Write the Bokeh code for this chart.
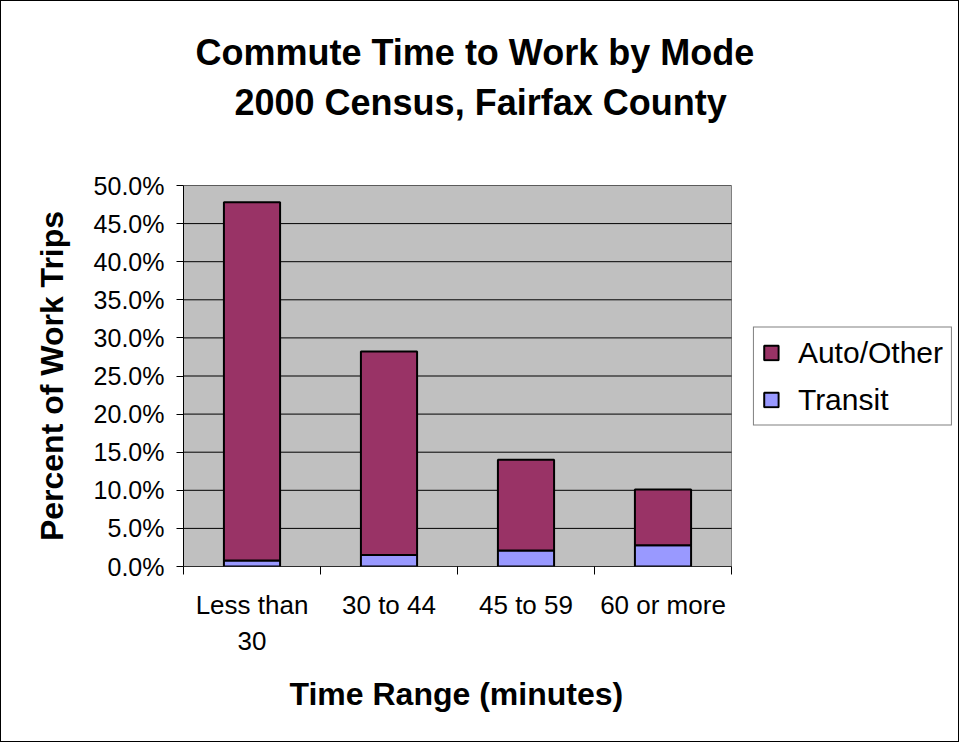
from bokeh.plotting import figure
from bokeh.models import (Range1d, FixedTicker, PrintfTickFormatter, Legend, LegendItem,
                          ColumnDataSource, Title)
from bokeh.embed import file_html
from bokeh.resources import INLINE

categories = ["Less than\n30", "30 to 44", "45 to 59", "60 or more"]
transit = [0.8, 1.5, 2.1, 2.8]
auto_other = [47.0, 26.7, 11.9, 7.3]
y_ticks = [0, 5, 10, 15, 20, 25, 30, 35, 40, 45, 50]
title_lines = ["Commute Time to Work by Mode", "2000 Census, Fairfax County"]
x_title = "Time Range (minutes)"
y_title = "Percent of Work Trips"

FONT = "Liberation Sans"

# layout (pixels)
W, H = 959, 742
LEFT, RIGHT, TOP, BOTTOM = 182, 7, 184, 177
PLOT_W = 548                      # width of the grey plot area
FRAME_W = W - LEFT - RIGHT

n = len(categories)
y_max = y_ticks[-1]
xs = [i + 0.5 for i in range(n)]
totals = [t + a for t, a in zip(transit, auto_other)]
src = ColumnDataSource(dict(x=xs, transit=transit, total=totals, zero=[0] * n))

p = figure(width=W, height=H, output_backend="svg", toolbar_location=None, title=None,
           x_range=Range1d(0, n * FRAME_W / PLOT_W), y_range=Range1d(0, y_max),
           min_border_left=LEFT, min_border_right=RIGHT, min_border_top=TOP,
           min_border_bottom=BOTTOM)
p.styles = {"border": "1px solid black"}
p.background_fill_color = "white"
p.border_fill_color = "white"
p.outline_line_color = None
p.xgrid.visible = False
p.ygrid.visible = False

# grey plot area, gridlines and x axis line (limited to the category span)
p.quad(left=0, right=n, bottom=0, top=y_max, fill_color="#C0C0C0",
       line_color="#808080", line_width=1)
p.segment(x0=[0] * len(y_ticks), x1=[n] * len(y_ticks), y0=y_ticks, y1=y_ticks,
          line_color="black", line_width=1)

r_tr = p.vbar(x="x", bottom="zero", top="transit", width=0.41, source=src,
              fill_color="#9999FF", line_color="black", line_width=2)
r_au = p.vbar(x="x", bottom="transit", top="total", width=0.41, source=src,
              fill_color="#993366", line_color="black", line_width=2)
p.segment(x0=[0], x1=[n], y0=[0], y1=[0], line_color="black", line_width=1)

# spacer between frame and title, then the two title lines (added nearest-first)
p.add_layout(Title(text=" ", standoff=60, text_font_size="1px"), "above")
for text, off, stand in [(title_lines[1], 51, 0), (title_lines[0], 12, 14)]:
    p.add_layout(Title(text=text, align="left", offset=off, standoff=stand,
                       text_font=FONT, text_font_size="36px", text_font_style="bold",
                       text_color="black"), "above")

xa = p.xaxis[0]
xa.ticker = FixedTicker(ticks=xs, minor_ticks=list(range(n + 1)))
xa.major_label_overrides = {x: c for x, c in zip(xs, categories)}
xa.major_tick_out = 0
xa.major_tick_in = 0
xa.minor_tick_out = 8
xa.minor_tick_in = 0
xa.minor_tick_line_color = "black"
xa.axis_line_color = None
xa.major_label_text_font = FONT
xa.major_label_text_font_size = "26px"
xa.major_label_text_color = "black"
xa.major_label_standoff = 15

p.add_layout(Title(text=x_title, align="left", offset=106, standoff=30,
                   text_font=FONT, text_font_size="32px", text_font_style="bold",
                   text_color="black"), "below")

ya = p.yaxis[0]
ya.ticker = FixedTicker(ticks=y_ticks, minor_ticks=[])
ya.formatter = PrintfTickFormatter(format="%.1f%%")
ya.major_tick_out = 7
ya.major_tick_in = 0
ya.major_tick_line_color = "black"
ya.axis_line_color = "black"
ya.major_label_text_font = FONT
ya.major_label_text_font_size = "25px"
ya.major_label_text_color = "black"
ya.major_label_standoff = 12
ya.axis_label = y_title
ya.axis_label_text_font = FONT
ya.axis_label_text_font_size = "32px"
ya.axis_label_text_font_style = "bold"
ya.axis_label_text_color = "black"
ya.axis_label_standoff = 21

legend = Legend(items=[LegendItem(label="Auto/Other", renderers=[r_au]),
                       LegendItem(label="Transit", renderers=[r_tr])],
                location="right")
legend.label_text_font = FONT
legend.label_text_font_size = "30px"
legend.label_text_color = "black"
legend.border_line_color = "black"
legend.border_line_width = 1
legend.background_fill_color = "white"
legend.glyph_width = 18
legend.glyph_height = 18
legend.padding = 8
legend.spacing = 13
legend.label_standoff = 18
legend.margin = 1
p.add_layout(legend, "center")

open("out.html", "w").write(file_html(p, INLINE))
